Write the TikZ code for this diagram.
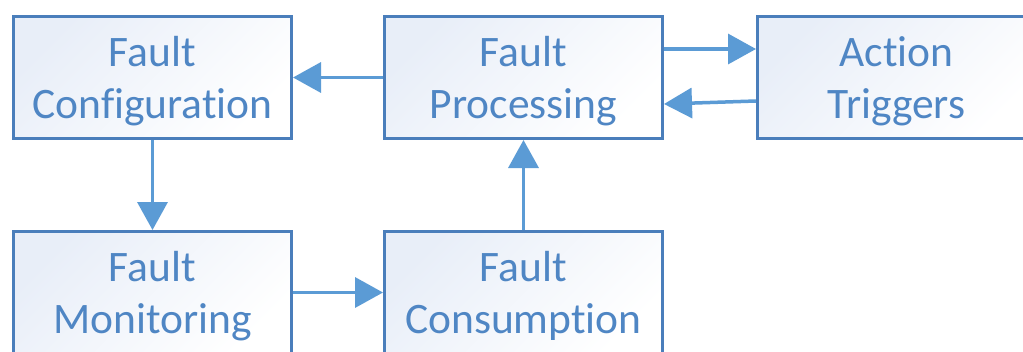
\documentclass[tikz,border=0pt]{standalone}
\usepackage{fontspec}
\setmainfont{Carlito}[Ligatures={NoCommon}]
\usetikzlibrary{arrows.meta}
\definecolor{boxline}{HTML}{4A7EBB}
\definecolor{boxtext}{HTML}{4F86C4}
\definecolor{flow}{HTML}{5B9BD5}
\definecolor{boxtint}{HTML}{E8EEF8}
\tikzset{
  stage/.style={draw=boxline, line width=3pt, rectangle,
    minimum width=278pt, minimum height=122pt, inner sep=0pt,
    top color=boxtint, bottom color=white, shading angle=45,
    text=boxtext, align=center, text depth=0pt,
    font=\fontsize{43.5pt}{52pt}\selectfont},
  flowarrow/.style={draw=flow, line width=3.5pt,
    -{Triangle[length=28pt,width=30pt]}}
}
\begin{document}
\begin{tikzpicture}[x=1pt,y=-1pt]
  \clip (0,0) rectangle (1023,351);
  \fill[white] (0,0) rectangle (1023,351);
  % top row
  \node[stage] (conf) at (152.5,77.5) {Fault\\Configuration};
  \node[stage] (proc) at (523.5,77.5) {Fault\\Processing};
  \node[stage] (act)  at (896.5,77.5) {Action\\Triggers};
  % bottom row
  \node[stage] (mon)  at (152.5,292.5) {Fault\\Monitoring};
  \node[stage] (cons) at (523.5,292.5) {Fault\\Consumption};
  % connectors
  \draw[flowarrow] (proc.west) -- (conf.east);
  \draw[flowarrow] ([yshift=28.5pt]proc.east) -- ([yshift=28.5pt]act.west);
  \draw[flowarrow] ([yshift=-23.5pt]act.west) -- ([yshift=-26.5pt]proc.east);
  \draw[flowarrow] (conf.south) -- (mon.north);
  \draw[flowarrow] (mon.east) -- (cons.west);
  \draw[flowarrow] (cons.north) -- (proc.south);
\end{tikzpicture}
\end{document}
